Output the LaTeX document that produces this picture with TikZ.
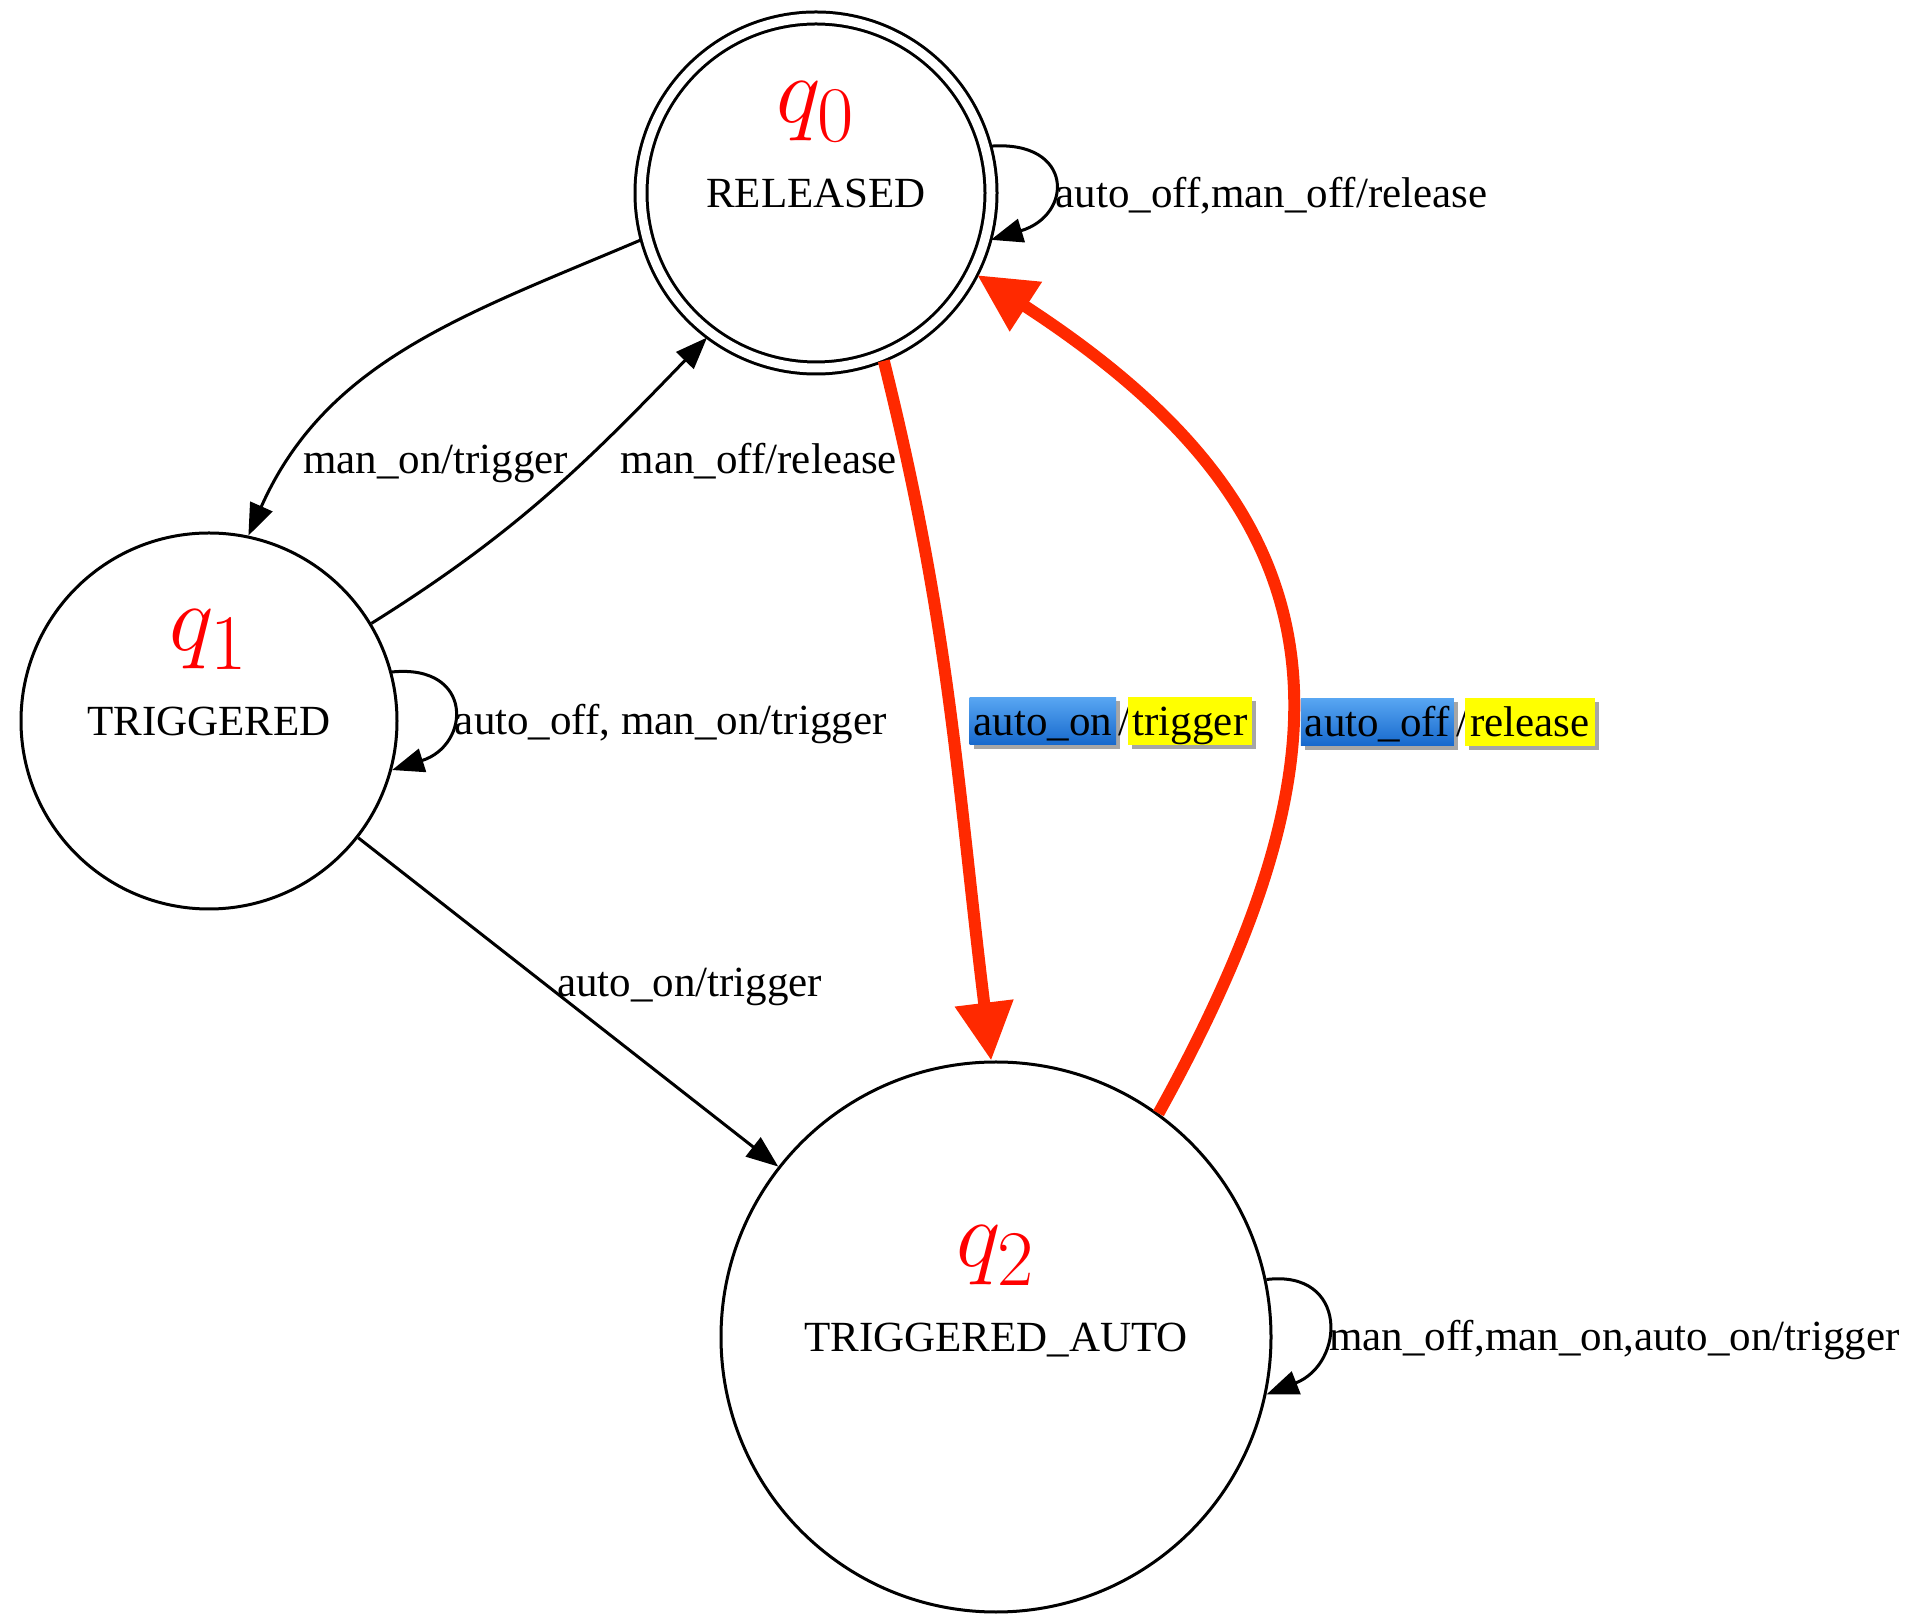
\documentclass[tikz,border=0pt]{standalone}
\usepackage[no-math]{fontspec}
\setmainfont{Liberation Serif}
\usetikzlibrary{arrows.meta,positioning,shadows}
\definecolor{HotRed}{RGB}{255,41,0}
\definecolor{LblBlueTop}{RGB}{88,166,242}
\definecolor{LblBlueBot}{RGB}{22,104,204}
\definecolor{LblYellow}{RGB}{255,255,0}

\begin{document}
\begin{tikzpicture}[x=1pt,y=1pt,
  state/.style={circle,draw,line width=3pt,inner sep=0pt,text depth=0pt,font=\fontsize{43}{50}\selectfont},
  qlab/.style={anchor=base,text=red,inner sep=0pt,scale=3.8,font=\Huge},
  edge/.style={line width=3pt,-{Triangle[length=32pt,width=24pt]}},
  hot/.style={draw=HotRed,line width=12pt,-{Triangle[length=58pt,width=56pt]}},
  lbl/.style={inner sep=0pt,text height=38pt,text depth=9.5pt,font=\fontsize{43}{50}\selectfont},
  lblshadow/.style={drop shadow={shadow xshift=4pt,shadow yshift=-4pt,fill=black!50,opacity=0.7}},
  bluebox/.style={lbl,inner xsep=4pt,top color=LblBlueTop,bottom color=LblBlueBot,lblshadow},
  yellowbox/.style={lbl,inner xsep=5pt,fill=LblYellow,lblshadow}]
\useasboundingbox (0,0) rectangle (1925,1615);

% states
\node[state,double,double distance=9pt,outer sep=6pt,minimum size=350pt] (q0) at (816,1422) {RELEASED};
\node[state,minimum size=376pt] (q1) at (209,894) {TRIGGERED};
\node[state,minimum size=550pt] (q2) at (996,278) {TRIGGERED\_AUTO};
\foreach \n/\i in {q0/0,q1/1,q2/2} {
   \node[qlab] (\n lab) at ([yshift=70pt]\n.center) {$q_{\i}$};
}

% transitions
\draw[edge] (q0.195) to[out=203,in=66] node[lbl,pos=0.85,right=14pt,yshift=6pt] (l01) {man\_on/trigger} (q1.78);
\draw[edge] (q1.31) to[out=32,in=226] node[lbl,pos=0.6,right=40pt,yshift=6pt] (l10) {man\_off/release} (q0.233);
\draw[edge] (q1) -- node[lbl,pos=0.47,anchor=west,yshift=10pt] (l12) {auto\_on/trigger} (q2);

\draw[edge] (q0.15) .. controls +(83,6) and +(83,25) .. (q0.-15)
   node[lbl,midway,right=1pt,yshift=-12pt] (l00) {auto\_off,man\_off/release};
\draw[edge] (q1.15) .. controls +(82,8) and +(79,25) .. (q1.-15)
   node[lbl,midway,right=1pt,yshift=-12pt] (l11) {auto\_off, man\_on/trigger};
\draw[edge] (q2.12) .. controls +(82,10) and +(79,31) .. (q2.-12)
   node[lbl,midway,right=1pt,yshift=-15pt] (l22) {man\_off,man\_on,auto\_on/trigger};

% automatic transitions
\draw[hot] (q0.-68) to[out=-76,in=97] node[bluebox,pos=0.52,right=12pt] (l02a) {auto\_on} (q2.91);
\node[lbl,right=-4pt of l02a] (l02s) {/};
\node[yellowbox,right=-3pt of l02s] (l02b) {trigger};
\draw[hot] (q2.54) to[out=61,in=-33,looseness=1.3] node[bluebox,pos=0.4,right=4pt] (l20a) {auto\_off} (q0.-27);
\node[lbl,right=-4pt of l20a] (l20s) {/};
\node[yellowbox,right=-3pt of l20s] (l20b) {release};
\end{tikzpicture}
\end{document}
